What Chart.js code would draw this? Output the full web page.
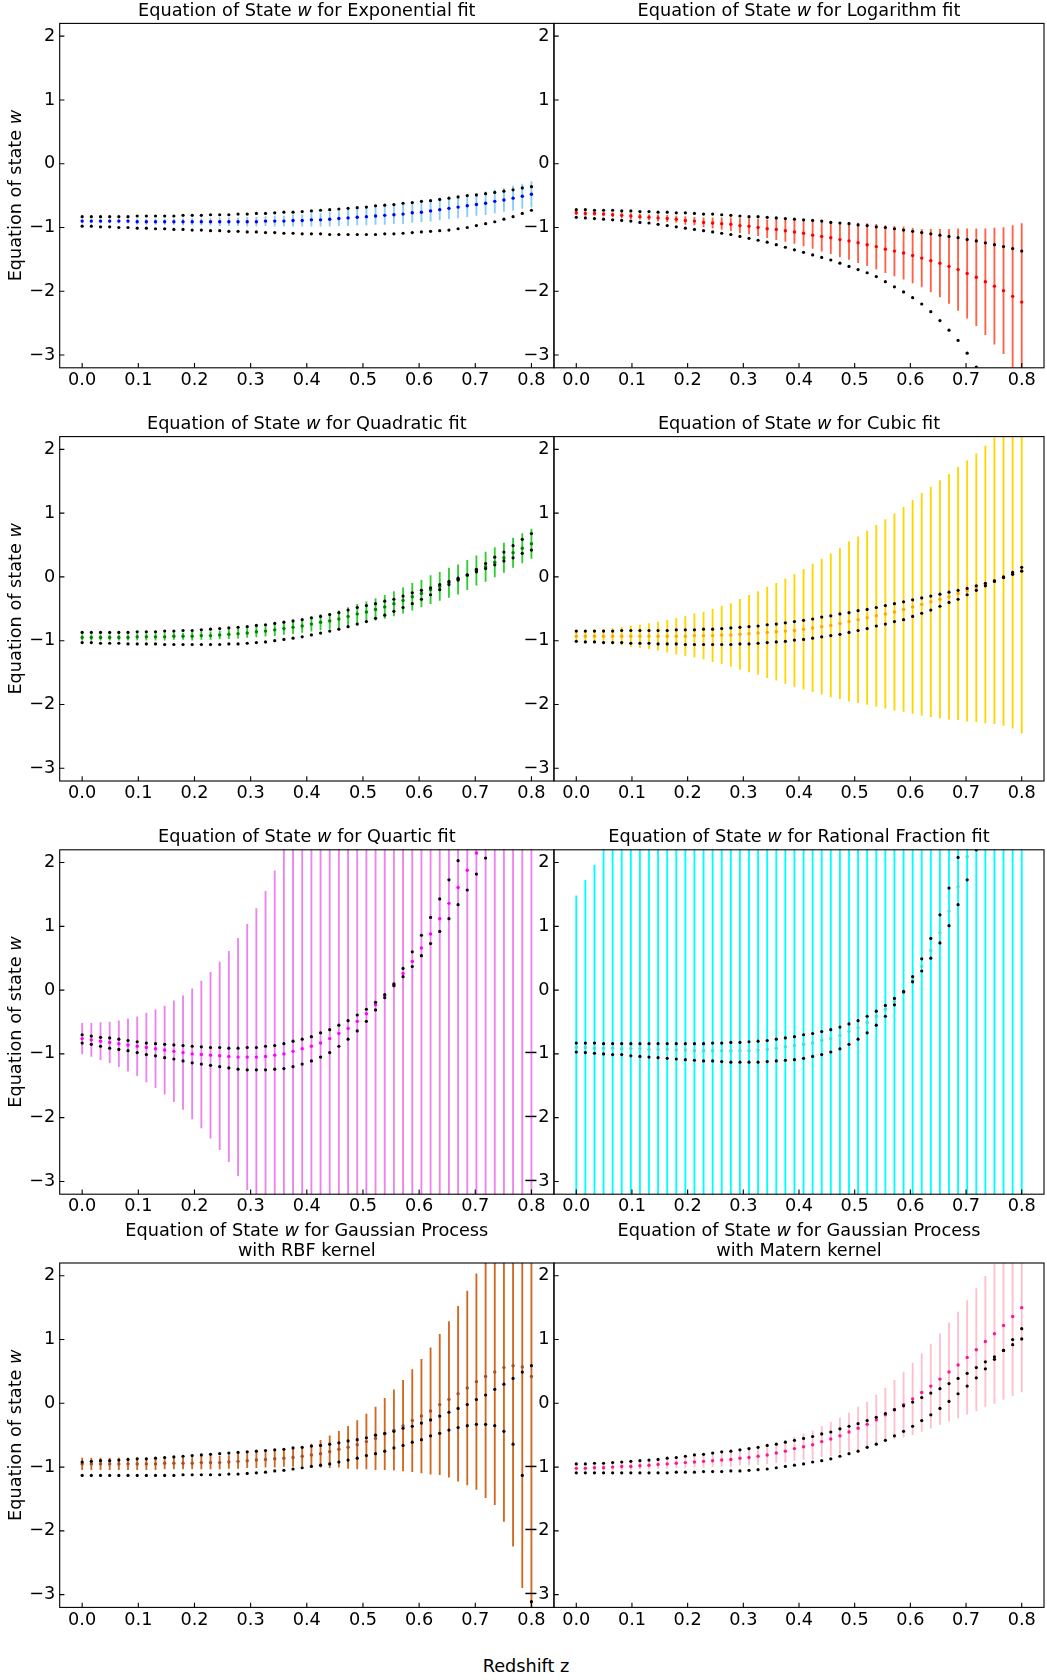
<!DOCTYPE html>
<html>
<head>
<meta charset="utf-8">
<title>Equation of State w fits</title>
<script src="https://cdn.jsdelivr.net/npm/chart.js"></script>
<style>
    html, body {
        margin: 0;
        padding: 0;
        background: #fff;
        width: 1047px;
        height: 1680px;
        overflow: hidden;
        position: relative;
        font-family: "DejaVu Sans", sans-serif;
    }
    canvas { position: absolute; }
    #xlabel {
        position: absolute;
        left: 0;
        width: 1052px;
        top: 1656px;
        line-height: 20px;
        text-align: center;
        font-size: 17.7px;
        color: #000;
    }
</style>
</head>
<body>
<div id="xlabel">Redshift z</div>
<script>
// ========================================
// Data
// ========================================

// Redshift grid shared by every panel
const redshift = [0.0000, 0.0163, 0.0327, 0.0490, 0.0653, 0.0816, 0.0980, 0.1143, 0.1306, 0.1469,
                  0.1633, 0.1796, 0.1959, 0.2122, 0.2286, 0.2449, 0.2612, 0.2776, 0.2939, 0.3102,
                  0.3265, 0.3429, 0.3592, 0.3755, 0.3918, 0.4082, 0.4245, 0.4408, 0.4571, 0.4735,
                  0.4898, 0.5061, 0.5224, 0.5388, 0.5551, 0.5714, 0.5878, 0.6041, 0.6204, 0.6367,
                  0.6531, 0.6694, 0.6857, 0.7020, 0.7184, 0.7347, 0.7510, 0.7673, 0.7837, 0.8000];

const xTicks = [0.0, 0.1, 0.2, 0.3, 0.4, 0.5, 0.6, 0.7, 0.8];
const yTicks = [-3, -2, -1, 0, 1, 2];

// Exponential fit
const expMid = [-0.90, -0.90, -0.90, -0.90, -0.90, -0.90, -0.91, -0.91, -0.91, -0.91,
                -0.91, -0.91, -0.91, -0.91, -0.91, -0.91, -0.91, -0.91, -0.91, -0.91,
                -0.90, -0.90, -0.90, -0.89, -0.89, -0.88, -0.88, -0.87, -0.86, -0.85,
                -0.84, -0.83, -0.82, -0.81, -0.80, -0.79, -0.77, -0.76, -0.74, -0.72,
                -0.70, -0.68, -0.66, -0.64, -0.62, -0.59, -0.57, -0.54, -0.51, -0.48];
const expUpper = [-0.83, -0.83, -0.83, -0.83, -0.83, -0.83, -0.82, -0.82, -0.82, -0.82,
                  -0.82, -0.81, -0.81, -0.81, -0.80, -0.80, -0.80, -0.79, -0.79, -0.78,
                  -0.78, -0.77, -0.76, -0.76, -0.75, -0.74, -0.73, -0.72, -0.71, -0.70,
                  -0.69, -0.68, -0.66, -0.65, -0.64, -0.62, -0.61, -0.59, -0.58, -0.56,
                  -0.54, -0.52, -0.50, -0.49, -0.47, -0.45, -0.43, -0.41, -0.38, -0.36];
const expLower = [-0.98, -0.98, -0.99, -0.99, -1.00, -1.00, -1.01, -1.01, -1.02, -1.02,
                  -1.03, -1.03, -1.04, -1.04, -1.05, -1.05, -1.06, -1.06, -1.07, -1.07,
                  -1.08, -1.08, -1.09, -1.09, -1.10, -1.10, -1.10, -1.11, -1.11, -1.11,
                  -1.11, -1.11, -1.11, -1.10, -1.10, -1.09, -1.08, -1.07, -1.06, -1.05,
                  -1.04, -1.02, -1.00, -0.97, -0.94, -0.91, -0.87, -0.83, -0.78, -0.73];
const expErr = [0.03, 0.03, 0.03, 0.03, 0.03, 0.03, 0.04, 0.04, 0.04, 0.04,
                0.04, 0.05, 0.05, 0.05, 0.05, 0.06, 0.06, 0.06, 0.07, 0.07,
                0.07, 0.08, 0.08, 0.09, 0.09, 0.10, 0.10, 0.11, 0.11, 0.12,
                0.12, 0.13, 0.13, 0.14, 0.14, 0.15, 0.15, 0.15, 0.16, 0.16,
                0.16, 0.17, 0.17, 0.17, 0.18, 0.18, 0.18, 0.19, 0.19, 0.20];

// Logarithm fit
const logMid = [-0.77, -0.78, -0.78, -0.79, -0.80, -0.81, -0.82, -0.83, -0.84, -0.85,
                -0.86, -0.87, -0.89, -0.90, -0.92, -0.93, -0.94, -0.95, -0.97, -0.98,
                -1.00, -1.02, -1.03, -1.05, -1.07, -1.09, -1.12, -1.14, -1.16, -1.19,
                -1.21, -1.24, -1.27, -1.30, -1.34, -1.37, -1.40, -1.44, -1.48, -1.52,
                -1.56, -1.61, -1.66, -1.72, -1.78, -1.85, -1.92, -1.99, -2.08, -2.17];
const logUpper = [-0.72, -0.72, -0.73, -0.73, -0.73, -0.74, -0.74, -0.75, -0.75, -0.76,
                  -0.76, -0.77, -0.77, -0.78, -0.79, -0.79, -0.80, -0.81, -0.82, -0.83,
                  -0.83, -0.84, -0.85, -0.86, -0.87, -0.88, -0.89, -0.90, -0.92, -0.93,
                  -0.94, -0.96, -0.97, -0.99, -1.00, -1.02, -1.04, -1.06, -1.08, -1.10,
                  -1.12, -1.14, -1.16, -1.19, -1.21, -1.24, -1.27, -1.30, -1.33, -1.37];
const logLower = [-0.84, -0.85, -0.86, -0.87, -0.88, -0.89, -0.90, -0.92, -0.93, -0.95,
                  -0.97, -0.99, -1.01, -1.03, -1.05, -1.07, -1.09, -1.11, -1.14, -1.17,
                  -1.20, -1.23, -1.27, -1.31, -1.35, -1.39, -1.43, -1.47, -1.51, -1.56,
                  -1.61, -1.66, -1.71, -1.77, -1.85, -1.93, -2.01, -2.10, -2.20, -2.32,
                  -2.46, -2.61, -2.77, -2.97, -3.19, -3.43, -3.70, -3.99, -4.31, -4.66];
const logErr = [0.03, 0.03, 0.03, 0.03, 0.03, 0.04, 0.04, 0.04, 0.04, 0.05,
                0.05, 0.05, 0.06, 0.06, 0.07, 0.08, 0.09, 0.10, 0.11, 0.12,
                0.13, 0.14, 0.16, 0.17, 0.18, 0.20, 0.21, 0.23, 0.25, 0.27,
                0.29, 0.31, 0.33, 0.35, 0.37, 0.39, 0.41, 0.43, 0.45, 0.49,
                0.53, 0.58, 0.64, 0.70, 0.76, 0.83, 0.91, 0.99, 1.11, 1.23];

// Quadratic fit
const quadMid = [-0.95, -0.95, -0.95, -0.95, -0.95, -0.95, -0.94, -0.94, -0.94, -0.94,
                 -0.93, -0.93, -0.93, -0.92, -0.92, -0.91, -0.90, -0.89, -0.88, -0.86,
                 -0.85, -0.83, -0.81, -0.79, -0.77, -0.74, -0.71, -0.69, -0.66, -0.62,
                 -0.58, -0.55, -0.51, -0.47, -0.42, -0.37, -0.31, -0.26, -0.20, -0.15,
                 -0.09, -0.04, 0.03, 0.10, 0.16, 0.23, 0.30, 0.38, 0.45, 0.52];
const quadUpper = [-0.87, -0.87, -0.87, -0.87, -0.87, -0.87, -0.86, -0.86, -0.86, -0.85,
                   -0.85, -0.84, -0.84, -0.83, -0.82, -0.81, -0.80, -0.79, -0.78, -0.76,
                   -0.75, -0.73, -0.71, -0.69, -0.67, -0.64, -0.62, -0.59, -0.56, -0.52,
                   -0.48, -0.45, -0.42, -0.38, -0.35, -0.30, -0.25, -0.21, -0.17, -0.12,
                   -0.07, -0.02, 0.03, 0.08, 0.13, 0.19, 0.25, 0.30, 0.37, 0.42];
const quadLower = [-1.03, -1.03, -1.04, -1.04, -1.04, -1.05, -1.05, -1.05, -1.05, -1.06,
                   -1.06, -1.06, -1.06, -1.06, -1.06, -1.06, -1.05, -1.05, -1.04, -1.03,
                   -1.02, -1.00, -0.98, -0.96, -0.94, -0.91, -0.88, -0.85, -0.82, -0.78,
                   -0.74, -0.70, -0.65, -0.60, -0.54, -0.48, -0.42, -0.35, -0.28, -0.20,
                   -0.12, -0.05, 0.03, 0.12, 0.21, 0.31, 0.39, 0.49, 0.59, 0.68];
const quadErr = [0.04, 0.04, 0.04, 0.04, 0.04, 0.04, 0.05, 0.05, 0.05, 0.05,
                 0.05, 0.05, 0.06, 0.06, 0.06, 0.06, 0.07, 0.07, 0.07, 0.08,
                 0.08, 0.09, 0.09, 0.10, 0.10, 0.11, 0.12, 0.12, 0.13, 0.14,
                 0.15, 0.16, 0.17, 0.18, 0.19, 0.20, 0.21, 0.21, 0.22, 0.22,
                 0.23, 0.23, 0.23, 0.23, 0.23, 0.23, 0.23, 0.23, 0.23, 0.23];

// Cubic fit
const cubMid = [-0.93, -0.93, -0.93, -0.93, -0.93, -0.93, -0.93, -0.93, -0.93, -0.93,
                -0.93, -0.93, -0.93, -0.92, -0.92, -0.92, -0.91, -0.91, -0.90, -0.89,
                -0.88, -0.87, -0.86, -0.85, -0.84, -0.82, -0.80, -0.78, -0.76, -0.73,
                -0.70, -0.67, -0.64, -0.61, -0.58, -0.55, -0.51, -0.47, -0.43, -0.39,
                -0.35, -0.31, -0.26, -0.22, -0.17, -0.12, -0.06, -0.01, 0.05, 0.10];
const cubUpper = [-0.85, -0.85, -0.85, -0.85, -0.85, -0.84, -0.84, -0.84, -0.84, -0.84,
                  -0.84, -0.83, -0.83, -0.83, -0.82, -0.82, -0.81, -0.80, -0.79, -0.78,
                  -0.77, -0.75, -0.74, -0.72, -0.70, -0.68, -0.66, -0.63, -0.61, -0.58,
                  -0.56, -0.53, -0.51, -0.48, -0.45, -0.42, -0.39, -0.36, -0.33, -0.30,
                  -0.27, -0.24, -0.21, -0.18, -0.14, -0.10, -0.06, -0.01, 0.04, 0.09];
const cubLower = [-1.01, -1.02, -1.02, -1.03, -1.03, -1.03, -1.04, -1.04, -1.04, -1.05,
                  -1.05, -1.05, -1.06, -1.06, -1.06, -1.06, -1.06, -1.06, -1.05, -1.05,
                  -1.04, -1.03, -1.02, -1.01, -0.99, -0.98, -0.96, -0.94, -0.92, -0.90,
                  -0.87, -0.84, -0.81, -0.77, -0.74, -0.70, -0.67, -0.62, -0.57, -0.52,
                  -0.46, -0.40, -0.35, -0.28, -0.21, -0.14, -0.07, 0.00, 0.07, 0.15];
const cubErr = [0.08, 0.09, 0.10, 0.11, 0.12, 0.14, 0.16, 0.18, 0.20, 0.22,
                0.25, 0.28, 0.31, 0.34, 0.37, 0.41, 0.45, 0.49, 0.55, 0.60,
                0.65, 0.71, 0.76, 0.82, 0.88, 0.94, 1.00, 1.06, 1.12, 1.18,
                1.25, 1.30, 1.36, 1.42, 1.48, 1.54, 1.60, 1.67, 1.74, 1.80,
                1.86, 1.92, 1.98, 2.04, 2.10, 2.17, 2.24, 2.32, 2.42, 2.55];

// Quartic fit
const quarMid = [-0.76, -0.78, -0.80, -0.82, -0.84, -0.86, -0.88, -0.90, -0.92, -0.94,
                 -0.96, -0.98, -1.00, -1.01, -1.02, -1.03, -1.04, -1.05, -1.05, -1.05,
                 -1.04, -1.02, -1.00, -0.96, -0.92, -0.88, -0.83, -0.76, -0.68, -0.60,
                 -0.49, -0.37, -0.23, -0.09, 0.08, 0.26, 0.45, 0.66, 0.88, 1.12,
                 1.36, 1.61, 1.88, 2.15, 2.44, 2.75, 3.07, 3.41, 3.77, 4.15];
const quarUpper = [-0.70, -0.72, -0.74, -0.75, -0.77, -0.79, -0.81, -0.83, -0.84, -0.85,
                   -0.86, -0.87, -0.88, -0.89, -0.90, -0.90, -0.91, -0.91, -0.90, -0.90,
                   -0.88, -0.87, -0.84, -0.80, -0.77, -0.73, -0.67, -0.62, -0.55, -0.48,
                   -0.39, -0.30, -0.19, -0.07, 0.07, 0.21, 0.37, 0.54, 0.73, 0.92,
                   1.12, 1.34, 1.57, 1.82, 2.07, 2.34, 2.62, 2.92, 3.24, 3.57];
const quarLower = [-0.83, -0.85, -0.88, -0.91, -0.93, -0.95, -0.98, -1.01, -1.03, -1.06,
                   -1.08, -1.11, -1.14, -1.16, -1.18, -1.20, -1.22, -1.24, -1.25, -1.25,
                   -1.25, -1.24, -1.23, -1.20, -1.16, -1.11, -1.05, -0.98, -0.88, -0.77,
                   -0.64, -0.49, -0.31, -0.12, 0.10, 0.34, 0.60, 0.86, 1.14, 1.43,
                   1.73, 2.03, 2.34, 2.66, 3.00, 3.35, 3.72, 4.10, 4.50, 4.92];
const quarErr = [0.24, 0.26, 0.29, 0.32, 0.36, 0.41, 0.46, 0.54, 0.61, 0.69,
                 0.79, 0.89, 1.02, 1.15, 1.30, 1.47, 1.65, 1.86, 2.08, 2.33,
                 2.59, 2.89, 3.21, 3.55, 3.92, 4.31, 4.73, 5.17, 5.64, 6.14,
                 6.66, 7.21, 7.79, 8.40, 9.04, 9.71, 10.4, 11.1, 11.9, 12.7,
                 13.5, 14.4, 15.3, 16.2, 17.2, 18.2, 19.3, 20.4, 21.5, 22.7];

// Rational fraction fit
const ratMid = [-0.90, -0.90, -0.91, -0.91, -0.91, -0.92, -0.92, -0.92, -0.93, -0.93,
                -0.93, -0.94, -0.94, -0.95, -0.95, -0.95, -0.95, -0.95, -0.95, -0.95,
                -0.94, -0.93, -0.91, -0.89, -0.87, -0.85, -0.83, -0.79, -0.76, -0.71,
                -0.65, -0.59, -0.51, -0.41, -0.30, -0.18, -0.03, 0.16, 0.37, 0.62,
                0.90, 1.24, 1.62, 2.09, 2.62, 3.25, 4.00, 4.90, 6.00, 7.40];
const ratUpper = [-0.83, -0.83, -0.83, -0.84, -0.84, -0.84, -0.84, -0.84, -0.84, -0.84,
                  -0.84, -0.84, -0.84, -0.84, -0.84, -0.83, -0.83, -0.82, -0.82, -0.81,
                  -0.80, -0.79, -0.77, -0.75, -0.73, -0.70, -0.68, -0.65, -0.62, -0.58,
                  -0.53, -0.48, -0.41, -0.33, -0.24, -0.13, -0.02, 0.13, 0.30, 0.50,
                  0.74, 1.01, 1.34, 1.73, 2.20, 2.76, 3.45, 4.25, 5.20, 6.40];
const ratLower = [-0.97, -0.98, -0.99, -1.00, -1.01, -1.01, -1.03, -1.04, -1.05, -1.06,
                  -1.07, -1.08, -1.09, -1.10, -1.11, -1.11, -1.12, -1.13, -1.13, -1.13,
                  -1.13, -1.12, -1.11, -1.10, -1.09, -1.07, -1.04, -1.01, -0.97, -0.92,
                  -0.85, -0.77, -0.67, -0.55, -0.41, -0.23, -0.03, 0.21, 0.49, 0.81,
                  1.18, 1.60, 2.08, 2.62, 3.25, 4.00, 4.90, 6.00, 7.30, 8.90];
const ratErr = [2.38, 2.62, 2.87, 3.15, 3.45, 3.80, 4.20, 4.60, 5.00, 5.50,
                6.00, 6.50, 7.00, 7.50, 8.00, 8.50, 9.00, 9.50, 10.0, 10.5,
                11.0, 11.5, 12.0, 12.5, 13.0, 13.5, 14.0, 14.5, 15.0, 15.5,
                16.0, 16.5, 17.0, 17.5, 18.0, 18.5, 19.0, 19.5, 20.0, 20.5,
                21.0, 21.5, 22.0, 22.5, 23.0, 23.5, 24.0, 24.5, 25.0, 25.5];

// Gaussian process, RBF kernel
const rbfMid = [-0.95, -0.95, -0.95, -0.95, -0.95, -0.95, -0.95, -0.95, -0.95, -0.94,
                -0.94, -0.94, -0.94, -0.93, -0.93, -0.93, -0.92, -0.91, -0.90, -0.89,
                -0.88, -0.87, -0.86, -0.85, -0.83, -0.81, -0.79, -0.76, -0.72, -0.69,
                -0.65, -0.60, -0.55, -0.48, -0.42, -0.35, -0.27, -0.20, -0.12, -0.02,
                0.06, 0.15, 0.24, 0.34, 0.42, 0.49, 0.56, 0.59, 0.57, 0.42];
const rbfUpper = [-0.92, -0.91, -0.90, -0.90, -0.89, -0.88, -0.87, -0.87, -0.86, -0.85,
                  -0.84, -0.83, -0.82, -0.81, -0.80, -0.79, -0.78, -0.77, -0.76, -0.75,
                  -0.74, -0.73, -0.72, -0.70, -0.69, -0.67, -0.66, -0.64, -0.62, -0.59,
                  -0.57, -0.54, -0.50, -0.47, -0.44, -0.39, -0.36, -0.31, -0.26, -0.20,
                  -0.14, -0.08, -0.02, 0.06, 0.13, 0.22, 0.30, 0.39, 0.49, 0.59];
const rbfLower = [-1.13, -1.13, -1.13, -1.13, -1.13, -1.13, -1.13, -1.13, -1.13, -1.13,
                  -1.13, -1.12, -1.12, -1.12, -1.12, -1.12, -1.11, -1.11, -1.10, -1.09,
                  -1.08, -1.06, -1.05, -1.03, -1.01, -0.99, -0.97, -0.95, -0.92, -0.89,
                  -0.86, -0.82, -0.79, -0.75, -0.70, -0.66, -0.61, -0.57, -0.51, -0.47,
                  -0.42, -0.38, -0.35, -0.33, -0.33, -0.35, -0.44, -0.64, -1.13, -3.11];
const rbfErr = [0.09, 0.09, 0.09, 0.09, 0.09, 0.09, 0.09, 0.09, 0.09, 0.09,
                0.09, 0.09, 0.09, 0.10, 0.10, 0.10, 0.10, 0.11, 0.11, 0.12,
                0.12, 0.13, 0.13, 0.14, 0.15, 0.17, 0.21, 0.25, 0.28, 0.33,
                0.38, 0.43, 0.49, 0.56, 0.63, 0.71, 0.80, 0.89, 0.99, 1.10,
                1.22, 1.37, 1.52, 1.69, 1.90, 2.08, 2.41, 2.83, 3.46, 3.90];

// Gaussian process, Matern kernel
const matMid = [-1.02, -1.02, -1.01, -1.01, -1.00, -0.99, -0.99, -0.98, -0.97, -0.96,
                -0.95, -0.94, -0.93, -0.92, -0.91, -0.90, -0.89, -0.88, -0.86, -0.85,
                -0.83, -0.81, -0.78, -0.75, -0.71, -0.68, -0.65, -0.60, -0.56, -0.51,
                -0.45, -0.39, -0.33, -0.26, -0.18, -0.10, -0.02, 0.07, 0.17, 0.27,
                0.38, 0.49, 0.60, 0.72, 0.84, 0.97, 1.09, 1.22, 1.36, 1.50];
const matUpper = [-0.95, -0.95, -0.94, -0.94, -0.93, -0.92, -0.91, -0.90, -0.89, -0.88,
                  -0.86, -0.85, -0.83, -0.81, -0.80, -0.78, -0.76, -0.75, -0.73, -0.71,
                  -0.69, -0.66, -0.64, -0.61, -0.58, -0.55, -0.52, -0.48, -0.45, -0.40,
                  -0.36, -0.32, -0.27, -0.22, -0.16, -0.10, -0.04, 0.02, 0.09, 0.16,
                  0.23, 0.31, 0.39, 0.47, 0.56, 0.65, 0.73, 0.83, 0.92, 1.01];
const matLower = [-1.09, -1.09, -1.09, -1.09, -1.09, -1.09, -1.09, -1.09, -1.09, -1.09,
                  -1.09, -1.08, -1.08, -1.08, -1.07, -1.07, -1.07, -1.06, -1.06, -1.05,
                  -1.04, -1.03, -1.01, -0.99, -0.97, -0.95, -0.92, -0.90, -0.87, -0.83,
                  -0.79, -0.75, -0.69, -0.64, -0.58, -0.51, -0.44, -0.36, -0.27, -0.18,
                  -0.08, 0.03, 0.15, 0.27, 0.40, 0.54, 0.69, 0.83, 1.00, 1.17];
const matErr = [0.03, 0.03, 0.04, 0.04, 0.04, 0.05, 0.05, 0.05, 0.06, 0.06,
                0.07, 0.07, 0.08, 0.08, 0.09, 0.09, 0.10, 0.11, 0.11, 0.12,
                0.13, 0.14, 0.15, 0.17, 0.18, 0.20, 0.22, 0.24, 0.26, 0.28,
                0.30, 0.33, 0.35, 0.39, 0.42, 0.46, 0.51, 0.56, 0.61, 0.66,
                0.71, 0.77, 0.83, 0.89, 0.96, 1.02, 1.09, 1.16, 1.24, 1.32];

// ========================================
// Panel setup
// ========================================

// Title parts: odd entries are drawn in italic
const panels = [
    { title: [['Equation of State ', 'w', ' for Exponential fit']],
      mid: expMid, upper: expUpper, lower: expLower, err: expErr, dot: '#0000ff', bar: '#87cefa' },
    { title: [['Equation of State ', 'w', ' for Logarithm fit']],
      mid: logMid, upper: logUpper, lower: logLower, err: logErr, dot: '#ff0000', bar: '#ff6347' },
    { title: [['Equation of State ', 'w', ' for Quadratic fit']],
      mid: quadMid, upper: quadUpper, lower: quadLower, err: quadErr, dot: '#008000', bar: '#32cd32' },
    { title: [['Equation of State ', 'w', ' for Cubic fit']],
      mid: cubMid, upper: cubUpper, lower: cubLower, err: cubErr, dot: '#ffa500', bar: '#ffd700' },
    { title: [['Equation of State ', 'w', ' for Quartic fit']],
      mid: quarMid, upper: quarUpper, lower: quarLower, err: quarErr, dot: '#ff00ff', bar: '#ee82ee' },
    { title: [['Equation of State ', 'w', ' for Rational Fraction fit']],
      mid: ratMid, upper: ratUpper, lower: ratLower, err: ratErr, dot: '#40e0d0', bar: '#00ffff' },
    { title: [['Equation of State ', 'w', ' for Gaussian Process'], ['with RBF kernel']],
      mid: rbfMid, upper: rbfUpper, lower: rbfLower, err: rbfErr, dot: '#a0522d', bar: '#d2691e' },
    { title: [['Equation of State ', 'w', ' for Gaussian Process'], ['with Matern kernel']],
      mid: matMid, upper: matUpper, lower: matLower, err: matErr, dot: '#ff1493', bar: '#ffc0cb' }
];

const Y_LABEL = ['Equation of state ', 'w'];
const FONT = '"DejaVu Sans"';
const FONT_SIZE = 17.7;

// Layout (figure pixels)
const ROW_TOP = [23.4, 436.6, 849.8, 1263.0];
const PLOT_H = 344.4;
const COL_LEFT = [59.7, 554.0];
const COL_RIGHT = [553.9, 1048.0];

// Draw a run of text pieces centred on cx, odd pieces italic
function drawRich(ctx, parts, cx, y) {
    const fonts = parts.map((_, i) => (i % 2 ? 'italic ' : '') + FONT_SIZE + 'px ' + FONT);
    const widths = parts.map((t, i) => { ctx.font = fonts[i]; return ctx.measureText(t).width; });
    let x = cx - widths.reduce((a, b) => a + b, 0) / 2;
    ctx.textAlign = 'left';
    parts.forEach((t, i) => {
        ctx.font = fonts[i];
        ctx.fillText(t, x, y);
        x += widths[i];
    });
}

// Spines, inward ticks, titles and the y label
const panelDecor = {
    id: 'panelDecor',
    afterDraw(chart, args, opts) {
        const { ctx, chartArea: a, scales } = chart;
        ctx.save();
        ctx.strokeStyle = '#000';
        ctx.lineWidth = 1.1;
        ctx.beginPath();
        yTicks.forEach(v => {
            const y = scales.y.getPixelForValue(v);
            ctx.moveTo(a.left, y);
            ctx.lineTo(a.left + 4.7, y);
        });
        xTicks.forEach(v => {
            const x = scales.x.getPixelForValue(v);
            ctx.moveTo(x, a.bottom);
            ctx.lineTo(x, a.bottom - 4.7);
        });
        ctx.stroke();
        ctx.strokeRect(a.left, a.top, a.right - a.left, a.bottom - a.top);

        ctx.fillStyle = '#000';
        ctx.textBaseline = 'middle';
        const lines = opts.title;
        lines.forEach((parts, k) => {
            const y = a.top - 12 - (lines.length - 1 - k) * 20;
            drawRich(ctx, parts, (a.left + a.right) / 2, y);
        });

        if (opts.ylabelX !== null) {
            ctx.translate(opts.ylabelX, (a.top + a.bottom) / 2);
            ctx.rotate(-Math.PI / 2);
            drawRich(ctx, Y_LABEL, 0, 0);
        }
        ctx.restore();
    }
};

function minusSign(v) {
    return v < 0 ? '\u2212' + Math.abs(v) : String(v);
}

function points(values) {
    return redshift.map((z, i) => ({ x: z, y: values[i] }));
}

function errorBars(mid, err) {
    return redshift.map((z, i) => ({ x: z, y: [mid[i] - err[i], mid[i] + err[i]] }));
}

function createPanel(p, k) {
    const col = k % 2;
    const row = Math.floor(k / 2);
    const left = col === 0 ? 0 : 500;
    const width = col === 0 ? 560 : 548;
    const height = 450;
    const top = Math.floor(ROW_TOP[row]) - 60;
    const padTop = ROW_TOP[row] - top;
    const xAxisH = height - padTop - PLOT_H;
    const yAxisW = COL_LEFT[col] - left;
    const padRight = left + width - COL_RIGHT[col];

    const canvas = document.createElement('canvas');
    canvas.width = width;
    canvas.height = height;
    canvas.style.left = left + 'px';
    canvas.style.top = top + 'px';
    canvas.style.width = width + 'px';
    canvas.style.height = height + 'px';
    document.body.appendChild(canvas);

    const tickFont = { family: FONT, size: FONT_SIZE };

    return new Chart(canvas, {
        type: 'scatter',
        data: {
            datasets: [
                { data: points(p.upper), pointRadius: 1.6, pointBorderWidth: 0,
                  pointBackgroundColor: '#000', clip: 0 },
                { data: points(p.lower), pointRadius: 1.6, pointBorderWidth: 0,
                  pointBackgroundColor: '#000', clip: 0 },
                { data: points(p.mid), pointRadius: 1.7, pointBorderWidth: 0,
                  pointBackgroundColor: p.dot, clip: 0 },
                { type: 'bar', data: errorBars(p.mid, p.err), backgroundColor: p.bar,
                  borderWidth: 0, barThickness: 1.2, clip: 0 }
            ]
        },
        options: {
            responsive: false,
            animation: false,
            devicePixelRatio: 1,
            events: [],
            layout: { padding: { top: padTop, left: 0, right: padRight, bottom: 0 } },
            plugins: {
                legend: { display: false },
                tooltip: { enabled: false },
                panelDecor: { title: p.title, ylabelX: col === 0 ? 16 : null }
            },
            scales: {
                x: {
                    type: 'linear',
                    min: -0.04,
                    max: 0.84,
                    offset: false,
                    grid: { display: false, drawTicks: false },
                    border: { display: false },
                    afterBuildTicks: s => { s.ticks = xTicks.map(v => ({ value: v })); },
                    afterFit: s => { s.height = xAxisH; },
                    ticks: {
                        font: tickFont, color: '#000', padding: 2,
                        maxRotation: 0, autoSkip: false,
                        callback: v => v.toFixed(1)
                    }
                },
                y: {
                    type: 'linear',
                    min: -3.2,
                    max: 2.2,
                    grid: { display: false, drawTicks: false },
                    border: { display: false },
                    afterBuildTicks: s => { s.ticks = yTicks.map(v => ({ value: v })); },
                    afterFit: s => { s.width = yAxisW; },
                    ticks: {
                        font: tickFont, color: '#000', padding: 4.5,
                        autoSkip: false,
                        callback: v => minusSign(v)
                    }
                }
            }
        },
        plugins: [panelDecor]
    });
}

panels.forEach(createPanel);
</script>
</body>
</html>
